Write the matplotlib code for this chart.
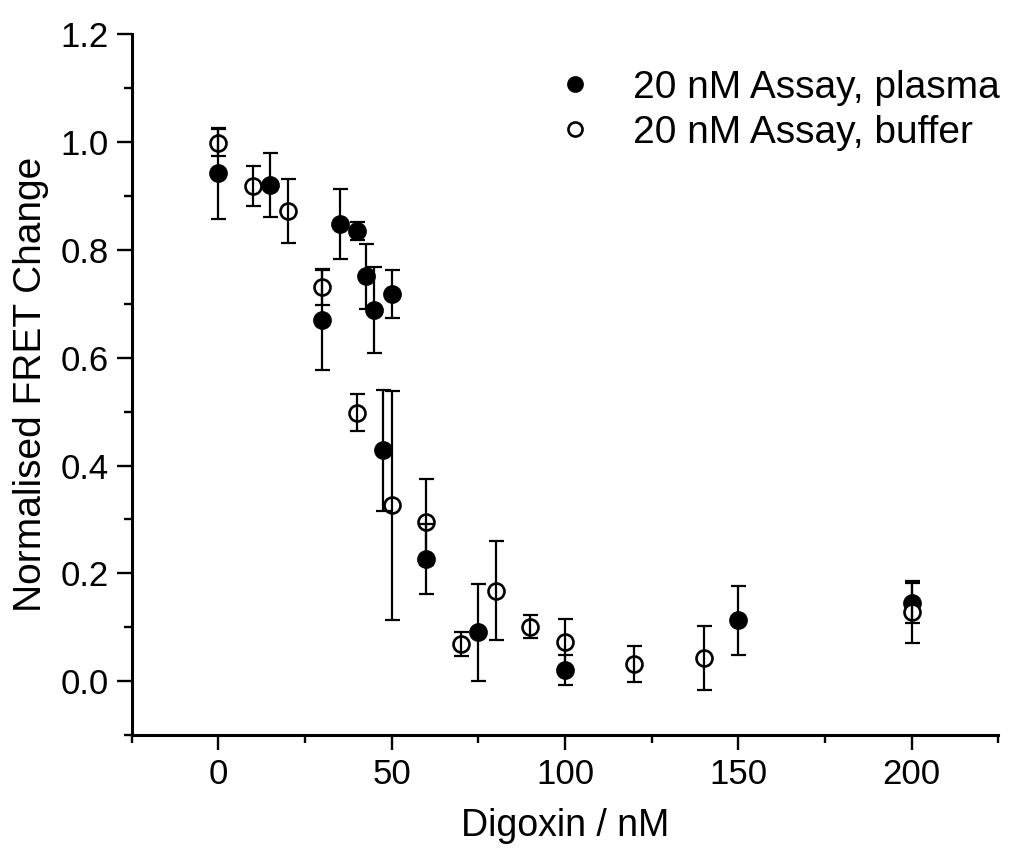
import matplotlib
matplotlib.use('AGG')
from matplotlib import pyplot as plt
from matplotlib.ticker import MultipleLocator

plt.rcParams['font.family'] = ['Liberation Sans', 'DejaVu Sans']

# 20 nM assay in plasma (filled)
plasma_x = [0, 15, 30, 35, 40, 42.5, 45, 47.5, 50, 60, 75, 100, 150, 200]
plasma_y = [0.942, 0.920, 0.670, 0.849, 0.835, 0.751, 0.688, 0.428, 0.718, 0.227, 0.091, 0.020, 0.113, 0.145]
plasma_err = [0.084, 0.059, 0.092, 0.065, 0.017, 0.060, 0.080, 0.112, 0.045, 0.065, 0.090, 0.028, 0.064, 0.038]

# 20 nM assay in buffer (open)
buffer_x = [0, 10, 20, 30, 40, 50, 60, 70, 80, 90, 100, 120, 140, 200]
buffer_y = [0.999, 0.919, 0.872, 0.731, 0.498, 0.326, 0.295, 0.069, 0.168, 0.101, 0.072, 0.032, 0.043, 0.128]
buffer_err = [0.025, 0.037, 0.059, 0.033, 0.034, 0.212, 0.080, 0.023, 0.092, 0.021, 0.043, 0.034, 0.060, 0.057]

labels = ['20 nM Assay, plasma', '20 nM Assay, buffer']

fig = plt.figure(figsize=(10.14, 8.61), dpi=100, facecolor='white')
ax = fig.add_axes([0.1299, 0.1463, 0.8547, 0.8138])

p1, = ax.plot(plasma_x, plasma_y, 'o', color='black', markersize=12, mew=1.5, zorder=2)
p2, = ax.plot(buffer_x, buffer_y, 'o', mfc='white', mec='black', markersize=11.5, mew=1.9, zorder=3)

ekw = dict(fmt='none', ecolor='black', elinewidth=1.6, capsize=5.4, capthick=1.6, zorder=4)
ax.errorbar(plasma_x, plasma_y, yerr=plasma_err, **ekw)
ax.errorbar(buffer_x, buffer_y, yerr=buffer_err, **ekw)

ax.set_xlim(-25, 225)
ax.set_ylim(-0.1, 1.2)
ax.xaxis.set_major_locator(MultipleLocator(50))
ax.xaxis.set_minor_locator(MultipleLocator(25))
ax.yaxis.set_major_locator(MultipleLocator(0.2))
ax.yaxis.set_minor_locator(MultipleLocator(0.1))
ax.yaxis.set_major_formatter(matplotlib.ticker.FormatStrFormatter('%.1f'))

for side in ['top', 'right']:
    ax.spines[side].set_visible(False)
for side in ['left', 'bottom']:
    ax.spines[side].set_linewidth(2.2)

ax.tick_params(which='major', direction='out', length=10.5, width=1.7, labelsize=25, pad=6)
ax.tick_params(which='minor', direction='out', length=6, width=1.7)

ax.set_xlabel('Digoxin / nM', fontsize=27)
ax.set_ylabel('Normalised FRET Change', fontsize=28)
ax.xaxis.set_label_coords(0.5, -0.104)
ax.yaxis.set_label_coords(-0.0954, 0.5)

leg = ax.legend([p1, p2], labels, loc='upper left', bbox_to_anchor=(556 / 1014, 1 - 70 / 861),
                bbox_transform=fig.transFigure, frameon=False, fontsize=28, borderpad=0,
                borderaxespad=0, handlelength=1.0, handletextpad=0.98, labelspacing=0.22,
                markerscale=0.88)

plt.savefig('out.png', dpi=100)
